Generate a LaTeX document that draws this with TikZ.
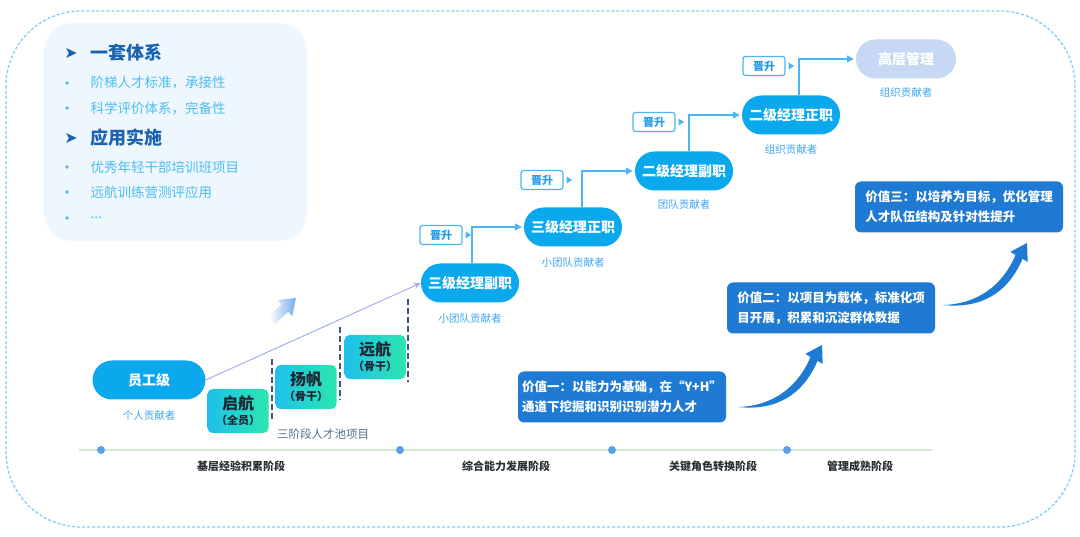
\documentclass[tikz,border=0pt]{standalone}
\usepackage{fontspec}
\setmainfont{Noto Sans CJK SC}
\newfontfamily\symb{DejaVu Sans}
\usetikzlibrary{positioning,arrows.meta}
\definecolor{cpilule}{HTML}{0BA8EE}
\definecolor{chaut}{HTML}{C6D8F3}
\definecolor{cvaleur}{HTML}{1F7AD4}
\definecolor{cjin}{HTML}{4DB6F2}
\definecolor{cjintexte}{HTML}{2A9AE8}
\definecolor{ccontrib}{HTML}{3DA5EE}
\definecolor{cpanneau}{HTML}{EFF7FE}
\definecolor{ctitre}{HTML}{1B63B0}
\definecolor{cpuce}{HTML}{4CBDF0}
\definecolor{caxe}{HTML}{CDEBD0}
\definecolor{cpoint}{HTML}{5A9FEA}
\definecolor{cpointille}{HTML}{3E5788}
\definecolor{cbord}{HTML}{7FCDF3}
\definecolor{cetapeA}{HTML}{1FC0EA}
\definecolor{cetapeB}{HTML}{2BE6B0}
\definecolor{cfonce}{HTML}{1C2733}
\definecolor{cphase}{HTML}{2A2F36}
\definecolor{cpool}{HTML}{52708F}
\definecolor{cligne}{HTML}{A3AEF2}
\tikzset{
  pilule/.style={fill=cpilule, text=white, rounded corners=19.5pt, minimum width=98pt, minimum height=39pt, inner sep=0pt, font=\bfseries\fontsize{14}{16}\selectfont},
  contrib/.style={text=ccontrib, font=\fontsize{10.5}{12}\selectfont},
  jin/.style={draw=cjin, line width=1.2pt, fill=white, text=cjintexte, rounded corners=2.5pt, minimum width=42pt, minimum height=19pt, inner sep=0pt, font=\bfseries\fontsize{11}{12}\selectfont},
  fleche/.style={draw=cjin, line width=1.3pt, -{Triangle[length=7pt,width=7pt]}, shorten >=2pt},
  etape/.style={left color=cetapeA, right color=cetapeB, rounded corners=5pt, minimum width=61pt, minimum height=44pt, inner sep=0pt, align=center, text=cfonce, font=\bfseries\fontsize{16}{18}\selectfont},
  valeur/.style={fill=cvaleur, rounded corners=6pt, text=white, align=left, minimum width=208pt, minimum height=51pt, font=\bfseries\fontsize{12.5}{20}\selectfont},
  phase/.style={text=cphase, font=\bfseries\fontsize{11}{13}\selectfont},
}
\begin{document}
\begin{tikzpicture}[x=1pt,y=-1pt]
\useasboundingbox (0,0) rectangle (1080,537);
% le cadre en pointillés autour de tout
\draw[cbord, line width=1.3pt, dash pattern=on 3pt off 2pt, rounded corners=75pt] (6,11) rectangle (1075,527);

% le panneau en haut à gauche
\fill[cpanneau, rounded corners=28pt] (44,23) rectangle (307,241);
\node[text=ctitre, font=\symb\fontsize{16}{17}\selectfont] (f1) at (71,53) {➤};
\node[anchor=west, text=ctitre, font=\bfseries\fontsize{18}{20}\selectfont] (t1) at (87,53) {一套体系};
\node[text=ctitre, font=\symb\fontsize{16}{17}\selectfont] (f2) at (71,138) {➤};
\node[anchor=west, text=ctitre, font=\bfseries\fontsize{18}{20}\selectfont] (t2) at (87,138) {应用实施};
\foreach \y/\t in {83/{阶梯人才标准，承接性}, 108/{科学评价体系，完备性}, 167/{优秀年轻干部培训班项目}, 192/{远航训练营测评应用}, 218/{...}}{
  \fill[cpuce] (67,\y) circle (1.8);
  \node[anchor=west, text=cpuce, font=\fontsize{13.5}{15}\selectfont] at (87,\y) {\t};
}

% l'axe des phases
\draw[caxe, line width=1.5pt] (79,450) -- (932,450);
\foreach \x/\n in {101/d1, 400/d2, 612/d3, 787/d4}
  \fill[cpoint] (\x,450) circle (4) coordinate (\n);
\node[phase] (ph1) at (241,466) {基层经验积累阶段};
\node[phase] (ph2) at (506,466) {综合能力发展阶段};
\node[phase] (ph3) at (713,466) {关键角色转换阶段};
\node[phase] (ph4) at (860,466) {管理成熟阶段};

% le point de départ
\node[pilule, minimum width=113pt, minimum height=39pt] (emp) at (149,380) {员工级};
\node[contrib] (c0) at (149,416) {个人贡献者};

% les trois étapes du vivier
\node[etape] (e1) at (238,411) {启航\\[-3pt]{\fontsize{11}{12}\selectfont（全员）}};
\node[etape] (e2) at (306,387) {扬帆\\[-3pt]{\fontsize{11}{12}\selectfont（骨干）}};
\node[etape] (e3) at (375,357) {远航\\[-3pt]{\fontsize{11}{12}\selectfont（骨干）}};
\draw[cpointille, line width=1.3pt, dash pattern=on 6pt off 3pt] (272,359) -- (272,422);
\draw[cpointille, line width=1.3pt, dash pattern=on 6pt off 3pt] (340,327) -- (340,400);
\draw[cpointille, line width=1.3pt, dash pattern=on 6pt off 3pt] (408,299) -- (408,382);
\node[text=cpool, font=\fontsize{11.5}{13}\selectfont] (pool) at (323,434) {三阶段人才池项目};

% la flèche dégradée
\shade[left color=white, right color=cpoint!85] (268.25,316.4) -- (281.55,304.35) -- (277.5,299.9) -- (296,298) -- (292.3,316.2) -- (288.25,311.75) -- (274.95,323.8) -- cycle;

% les échelons
\node[pilule] (m1) at (470,283) {三级经理副职};
\node[pilule] (m2) at (573,227) {三级经理正职};
\node[pilule] (m3) at (684,171) {二级经理副职};
\node[pilule] (m4) at (791,115) {二级经理正职};
\node[pilule, fill=chaut, minimum width=100pt] (m5) at (906,59) {高层管理};
\node[contrib] (c1) at (470,319) {小团队贡献者};
\node[contrib] (c2) at (573,263) {小团队贡献者};
\node[contrib] (c3) at (684,205) {团队贡献者};
\node[contrib] (c4) at (791,150) {组织贡献者};
\node[contrib] (c5) at (906,93) {组织贡献者};

\draw[cligne, line width=1pt, -{Stealth[length=7pt,width=6pt]}] (emp.east) -- (m1.west);

% les petits cadres « 晋升 »
\node[jin] (p1) at (441,235) {晋升};
\node[jin] (p2) at (542,180) {晋升};
\node[jin] (p3) at (654,122) {晋升};
\node[jin] (p4) at (764,66) {晋升};
\foreach \p in {p1,p2,p3,p4}
  \fill[cjin] ([xshift=3pt]\p.east) ++(0,-3.5) -- ++(5.5,3.5) -- ++(-5.5,3.5) -- cycle;
\foreach \a/\b/\s in {m1/m2/2, m2/m3/9, m3/m4/5, m4/m5/8}
  \draw[fleche] ([xshift=\s pt]\a.north) |- (\b.west);

% les trois valeurs
\node[valeur] (v1) at (622,397) {价值一：以能力为基础，在“Y+H”\\通道下挖掘和识别识别潜力人才};
\node[valeur] (v2) at (831,308) {价值二：以项目为载体，标准化项\\目开展，积累和沉淀群体数据};
\node[valeur] (v3) at (959,207) {价值三：以培养为目标，优化管理\\人才队伍结构及针对性提升};

% les flèches courbes entre les valeurs
\foreach \x/\y in {738/407, 943/305}
  \fill[cvaleur, shift={(\x,\y)}] (0,0) .. controls (35,-1) and (60,-20) .. (72.5,-50.1) -- (67.3,-53.1) -- (84,-62) -- (84.7,-43.1) -- (79.5,-46.1) .. controls (65,-12) and (38,4) .. (0,0) -- cycle;
\end{tikzpicture}
\end{document}
